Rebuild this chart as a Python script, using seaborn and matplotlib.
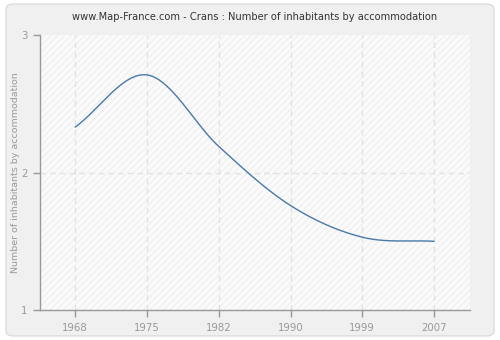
import numpy as np
import pandas as pd
import matplotlib
matplotlib.use("Agg")
import matplotlib.pyplot as plt
from matplotlib.patches import FancyBboxPatch, Rectangle
import seaborn as sns

years = ["1968", "1975", "1982", "1990", "1999", "2007"]
values = [2.33, 2.71, 2.19, 1.76, 1.53, 1.50]
yticks = [1, 2, 3]

def smooth_curve(x, y, n=40):
    x = np.asarray(x, float); y = np.asarray(y, float)
    k = len(x); h = np.diff(x)
    m = np.zeros(k)
    m[0] = (y[1] - y[0]) / h[0]
    m[-1] = (y[-1] - y[-2]) / h[-1]
    for i in range(1, k - 1):
        m[i] = (y[i + 1] - y[i - 1]) / (x[i + 1] - x[i - 1])
    xs, ys = [], []
    for i in range(k - 1):
        t = np.linspace(0, 1, n, endpoint=(i == k - 2))
        h00 = 2*t**3 - 3*t**2 + 1; h10 = t**3 - 2*t**2 + t
        h01 = -2*t**3 + 3*t**2; h11 = t**3 - t**2
        xs.append(x[i] + t * h[i])
        ys.append(h00*y[i] + h10*h[i]*m[i] + h01*y[i+1] + h11*h[i]*m[i+1])
    return np.concatenate(xs), np.concatenate(ys)

sns.set_theme(style="white")
plt.rcParams['font.family'] = ['DejaVu Sans']
plt.rcParams['hatch.color'] = "#ececec"
plt.rcParams['hatch.linewidth'] = 0.6

fig = plt.figure(figsize=(5, 3.4), dpi=100)
fig.patch.set_facecolor("white")
bg = FancyBboxPatch((0.012, 0.012), 0.976, 0.976,
                    boxstyle="round,pad=0,rounding_size=0.015",
                    transform=fig.transFigure, facecolor="#f0f0f0",
                    edgecolor="#dcdcdc", linewidth=1, zorder=-10)
fig.patches.append(bg)
ax = fig.add_axes([0.08, 0.088, 0.86, 0.809])
ax.set_zorder(1)
ax.set_facecolor("#fafafa")
ax.add_patch(Rectangle((0, 0), 1, 1, transform=ax.transAxes, facecolor="none",
                       edgecolor="#ececec", hatch="/////", linewidth=0, zorder=0))

pos = np.arange(len(years))
cx, cy = smooth_curve(pos, values)
df = pd.DataFrame({"x": cx, "y": cy})
sns.lineplot(data=df, x="x", y="y", ax=ax, color="#4a78a8", linewidth=1, zorder=3)

ax.set_xlim(-0.49, 5.5)
ax.set_ylim(1, 3)
ax.set_xticks(pos)
ax.set_xticklabels(years)
ax.set_yticks(yticks)
ax.set_yticklabels([str(v) for v in yticks])
for p in pos:
    ax.axvline(p, color="#e2e2e2", linestyle=(0, (4, 3)), linewidth=1, zorder=1)
ax.axhline(2, color="#e2e2e2", linestyle=(0, (4, 3)), linewidth=1, zorder=1)

for s in ["top", "right"]:
    ax.spines[s].set_visible(False)
for s in ["left", "bottom"]:
    ax.spines[s].set_color("#999999")
    ax.spines[s].set_linewidth(1)
ax.tick_params(axis="both", colors="#999999", labelcolor="#999999", labelsize=7.3,
               length=5, width=1, direction="out", bottom=True, left=True, pad=4)
ax.set_xlabel("")
ax.set_ylabel("Number of inhabitants by accommodation", color="#999999", fontsize=6.8,
              labelpad=1)
ax.set_title("www.Map-France.com - Crans : Number of inhabitants by accommodation",
             fontsize=7.1, color="#333333", pad=11)

fig.savefig("out.png", dpi=100, facecolor=fig.get_facecolor())
